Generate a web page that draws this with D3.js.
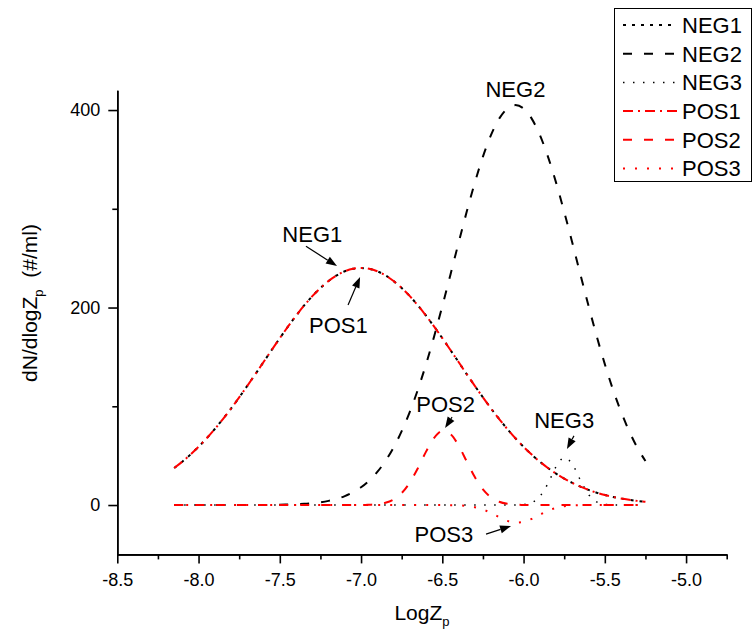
<!DOCTYPE html>
<html>
<head>
<meta charset="utf-8">
<script src="https://cdn.jsdelivr.net/npm/d3@7"></script>
<style>
  body { margin: 0; background: #fff; }
  text { font-family: "Liberation Sans", Arial, sans-serif; }
</style>
</head>
<body>
<svg id="chart"></svg>
<script>
// Size of the picture and the plot frame (in pixels).
const SVG_WIDTH = 753;
const SVG_HEIGHT = 642;
const PLOT_LEFT = 117.3;
const PLOT_RIGHT = 726.7;
const PLOT_BOTTOM = 554.4;
const PLOT_TOP = 90.3;

// Data.
const logZ = [
  -8.15, -8.10, -8.05, -8.00, -7.95, -7.90, -7.85, -7.80, -7.75, -7.70,
  -7.65, -7.60, -7.55, -7.50, -7.45, -7.40, -7.35, -7.30, -7.25, -7.20,
  -7.15, -7.10, -7.05, -7.00, -6.95, -6.90, -6.85, -6.80, -6.75, -6.70,
  -6.65, -6.60, -6.55, -6.50, -6.45, -6.40, -6.35, -6.30, -6.25, -6.20,
  -6.15, -6.10, -6.05, -6.00, -5.95, -5.90, -5.85, -5.80, -5.75, -5.70,
  -5.65, -5.60, -5.55, -5.50, -5.45, -5.40, -5.35, -5.30, -5.25
];

const neg1 = [
  37.5, 43.9, 51.1, 59.0, 67.6, 77.0, 87.1, 97.7, 109.0, 120.7,
  132.6, 144.8, 157.0, 169.0, 180.6, 191.7, 202.1, 211.5, 219.8, 226.9,
  232.5, 236.7, 239.2, 240.0, 239.2, 236.7, 232.5, 226.9, 219.8, 211.5,
  202.1, 191.7, 180.6, 169.0, 157.0, 144.8, 132.6, 120.7, 109.0, 97.7,
  87.1, 77.0, 67.6, 59.0, 51.1, 43.9, 37.5, 31.8, 26.8, 22.4,
  18.6, 15.3, 12.5, 10.2, 8.2, 6.6, 5.3, 4.2, 3.3
];

const neg2 = [
  0, 0, 0, 0, 0, 0, 0, 0, 0, 0,
  0, 0, 0.2, 0.3, 0.5, 0.8, 1.2, 1.9, 2.8, 4.2,
  6.2, 9.0, 12.9, 18.0, 24.8, 33.5, 44.6, 58.2, 74.8, 94.4,
  117.0, 142.7, 171.0, 201.5, 233.3, 265.5, 296.9, 326.5, 352.8, 374.8,
  391.3, 401.5, 405.0, 401.5, 391.3, 374.8, 352.8, 326.5, 296.9, 265.5,
  233.3, 201.5, 171.0, 142.7, 117.0, 94.4, 74.8, 58.2, 44.6
];

const neg3 = [
  0, 0, 0, 0, 0, 0, 0, 0, 0, 0,
  0, 0, 0, 0, 0, 0, 0, 0, 0, 0,
  0, 0, 0, 0, 0, 0, 0, 0, 0, 0,
  0, 0, 0, 0, 0, 0, 0, 0, 0, 0,
  0, 0, 0.1, 0.5, 2.4, 8.6, 21.8, 38.7, 47.9, 41.5,
  25.2, 10.7, 3.2, 0.7, 0.1, 0, 0, 0, 0
];

const pos1 = [
  37.5, 43.9, 51.1, 59.0, 67.6, 77.0, 87.1, 97.7, 109.0, 120.7,
  132.6, 144.8, 157.0, 169.0, 180.6, 191.7, 202.1, 211.5, 219.8, 226.9,
  232.5, 236.7, 239.2, 240.0, 239.2, 236.7, 232.5, 226.9, 219.8, 211.5,
  202.1, 191.7, 180.6, 169.0, 157.0, 144.8, 132.6, 120.7, 109.0, 97.7,
  87.1, 77.0, 67.6, 59.0, 51.1, 43.9, 37.5, 31.8, 26.8, 22.4,
  18.6, 15.3, 12.5, 10.2, 8.2, 6.6, 5.3, 4.2, 3.3
];

const pos2 = [
  0, 0, 0, 0, 0, 0, 0, 0, 0, 0,
  0, 0, 0, 0, 0, 0, 0, 0, 0, 0,
  0, 0, 0, 0, 0.3, 0.8, 2.3, 5.6, 12.1, 22.8,
  37.5, 54.1, 68.0, 74.8, 71.8, 60.3, 44.2, 28.3, 15.8, 7.7,
  3.3, 1.2, 0.4, 0.1, 0, 0, 0, 0, 0, 0,
  0, 0, 0, 0, 0, 0, 0, 0, 0
];

const pos3 = [
  0, 0, 0, 0, 0, 0, 0, 0, 0, 0,
  0, 0, 0, 0, 0, 0, 0, 0, 0, 0,
  0, 0, 0, 0, 0, 0, 0, 0, 0, 0,
  0, 0, 0, 0, -0.1, -0.3, -0.9, -2.2, -4.5, -8.1,
  -12.3, -16.1, -17.9, -17.1, -14.0, -9.8, -5.8, -3.0, -1.3, -0.5,
  -0.2, 0, 0, 0, 0, 0, 0, 0, 0
];

const seriesNames = ['NEG1', 'NEG2', 'NEG3', 'POS1', 'POS2', 'POS3'];
const seriesValues = [neg1, neg2, neg3, pos1, pos2, pos3];

const xTicks = [-8.5, -8.0, -7.5, -7.0, -6.5, -6.0, -5.5, -5.0];
const xTickLabels = ['-8.5', '-8.0', '-7.5', '-7.0', '-6.5', '-6.0', '-5.5', '-5.0'];
const xMinorTicks = [-8.25, -7.75, -7.25, -6.75, -6.25, -5.75, -5.25, -4.75];
const yTicks = [0, 200, 400];
const yTickLabels = ['0', '200', '400'];
const yMinorTicks = [100, 300];

// Line styles, one per series (same order as seriesNames).
const STYLES = [
  { color: '#000', width: 2, dash: '3,6' },
  { color: '#000', width: 2, dash: '9,12' },
  { color: '#000', width: 1.5, dash: '1.5,8.5' },
  { color: '#f00', width: 2, dash: '10,5,2,5' },
  { color: '#f00', width: 2, dash: '9,12' },
  { color: '#f00', width: 2, dash: '2,10' }
];

// Callout labels, placed in data coordinates [logZ, value].
const callouts = [
  { text: 'NEG2', at: [-6.05, 413] },
  { text: 'NEG1', at: [-7.30, 266], from: [-7.339, 262], to: [-7.148, 242] },
  { text: 'POS1', at: [-7.14, 174], from: [-7.080, 202.5], to: [-7.006, 231] },
  { text: 'POS2', at: [-6.48, 94], from: [-6.440, 89], to: [-6.483, 78] },
  { text: 'NEG3', at: [-5.75, 78], from: [-5.690, 70], to: [-5.733, 56.7] },
  { text: 'POS3', at: [-6.49, -37.5], from: [-6.231, -29.4], to: [-6.077, -21.3] }
];

const svg = d3.select('#chart')
  .attr('width', SVG_WIDTH)
  .attr('height', SVG_HEIGHT)
  .attr('viewBox', `0 0 ${SVG_WIDTH} ${SVG_HEIGHT}`);

svg.append('rect')
  .attr('width', SVG_WIDTH)
  .attr('height', SVG_HEIGHT)
  .attr('fill', '#fff');

const x = d3.scaleLinear().domain([-8.5, -4.75]).range([PLOT_LEFT, PLOT_RIGHT]);
const y = d3.scaleLinear().domain([-50, 420]).range([PLOT_BOTTOM, PLOT_TOP]);

// Curves
const line = d3.line()
  .x((d, i) => x(logZ[i]))
  .y(d => y(d))
  .curve(d3.curveMonotoneX);

svg.append('g')
  .attr('class', 'curves')
  .selectAll('path')
  .data(seriesValues)
  .enter()
  .append('path')
  .attr('d', line)
  .attr('fill', 'none')
  .attr('stroke', (d, i) => STYLES[i].color)
  .attr('stroke-width', (d, i) => STYLES[i].width)
  .attr('stroke-dasharray', (d, i) => STYLES[i].dash);

// Axes
function styleAxis(g) {
  g.selectAll('.domain').attr('stroke', '#000').attr('stroke-width', 1.6);
  g.selectAll('.tick line').attr('stroke', '#000').attr('stroke-width', 1.6);
  g.selectAll('.tick text')
    .attr('fill', '#000')
    .style('font-size', '18px')
    .style('font-family', '"Liberation Sans", Arial, sans-serif');
}

svg.append('g')
  .attr('transform', `translate(0,${PLOT_BOTTOM})`)
  .call(d3.axisBottom(x).tickValues(xMinorTicks).tickSize(5).tickSizeOuter(0).tickFormat(''))
  .call(styleAxis);

svg.append('g')
  .attr('transform', `translate(0,${PLOT_BOTTOM})`)
  .call(d3.axisBottom(x).tickValues(xTicks).tickSize(9).tickSizeOuter(0).tickPadding(10)
    .tickFormat((d, i) => xTickLabels[i]))
  .call(styleAxis);

svg.append('g')
  .attr('transform', `translate(${PLOT_LEFT},0)`)
  .call(d3.axisLeft(y).tickValues(yMinorTicks).tickSize(5).tickSizeOuter(0).tickFormat(''))
  .call(styleAxis);

svg.append('g')
  .attr('transform', `translate(${PLOT_LEFT},0)`)
  .call(d3.axisLeft(y).tickValues(yTicks).tickSize(9).tickSizeOuter(0).tickPadding(8)
    .tickFormat((d, i) => yTickLabels[i]))
  .call(styleAxis);

// Axis titles
const xTitle = svg.append('text')
  .attr('x', (PLOT_LEFT + PLOT_RIGHT) / 2)
  .attr('y', 620)
  .attr('text-anchor', 'middle')
  .style('font-size', '21px');
xTitle.append('tspan').text('LogZ');
xTitle.append('tspan').attr('dy', 6).style('font-size', '13px').text('p');

const yTitle = svg.append('text')
  .attr('transform', `translate(37,303) rotate(-90)`)
  .attr('text-anchor', 'middle')
  .style('font-size', '21px');
yTitle.append('tspan').text('dN/dlogZ');
yTitle.append('tspan').attr('dy', 6).style('font-size', '13px').text('p');
yTitle.append('tspan').attr('dy', -6).text('\u00a0 (#/ml)');

// Callouts with arrows
const calloutG = svg.append('g').attr('class', 'callouts');

calloutG.selectAll('text')
  .data(callouts)
  .enter()
  .append('text')
  .attr('x', d => x(d.at[0]))
  .attr('y', d => y(d.at[1]))
  .attr('text-anchor', 'middle')
  .style('font-size', '22px')
  .text(d => d.text);

callouts.filter(d => d.from).forEach(d => {
  const x0 = x(d.from[0]), y0 = y(d.from[1]);
  const x1 = x(d.to[0]), y1 = y(d.to[1]);
  const len = Math.hypot(x1 - x0, y1 - y0);
  const ux = (x1 - x0) / len, uy = (y1 - y0) / len;
  const head = 11, half = 4;
  const bx = x1 - ux * head, by = y1 - uy * head;
  calloutG.append('line')
    .attr('x1', x0).attr('y1', y0)
    .attr('x2', bx).attr('y2', by)
    .attr('stroke', '#000')
    .attr('stroke-width', 1.2);
  calloutG.append('path')
    .attr('d', `M${x1},${y1}L${bx - uy * half},${by + ux * half}L${bx + uy * half},${by - ux * half}Z`)
    .attr('fill', '#000');
});

// Legend
const legend = svg.append('g').attr('class', 'legend');

legend.append('rect')
  .attr('x', 614.5)
  .attr('y', 8.5)
  .attr('width', 137)
  .attr('height', 173)
  .attr('fill', '#fff')
  .attr('stroke', '#000')
  .attr('stroke-width', 1);

const rows = legend.selectAll('g.row')
  .data(seriesNames)
  .enter()
  .append('g')
  .attr('class', 'row')
  .attr('transform', (d, i) => `translate(0,${25 + i * 28.7})`);

rows.append('line')
  .attr('x1', 623).attr('x2', 677)
  .attr('stroke', (d, i) => STYLES[i].color)
  .attr('stroke-width', (d, i) => STYLES[i].width)
  .attr('stroke-dasharray', (d, i) => STYLES[i].dash);

rows.append('text')
  .attr('x', 682)
  .attr('dy', '0.36em')
  .style('font-size', '22px')
  .text(d => d);
</script>
</body>
</html>
